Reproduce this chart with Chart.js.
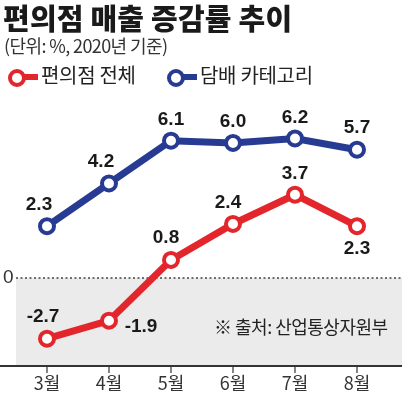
<!DOCTYPE html>
<html><head><meta charset="utf-8">
<script src="https://cdn.jsdelivr.net/npm/chart.js@4"></script>
<style>
html,body{margin:0;padding:0;background:#fff;}
#wrap{position:relative;width:402px;height:396px;overflow:hidden;font-family:"Noto Sans CJK KR","Noto Sans",sans-serif;}
canvas{position:absolute;left:0;top:0;}
.t{position:absolute;white-space:nowrap;color:#222;}
#title{left:3px;top:-4px;font-size:29px;font-weight:900;color:#1a1a1a;letter-spacing:0.2px;}
#sub{left:4px;top:32px;font-size:18px;color:#333;letter-spacing:-0.6px;}
.lg{position:absolute;top:66px;height:24px;}
.lg .dot{position:absolute;left:0;top:3px;width:10px;height:10px;border-radius:50%;border:4px solid;background:#fff;}
.lg .stub{position:absolute;left:15px;top:8px;width:15px;height:6px;}
.lg span{position:absolute;left:33px;top:-6px;font-size:20px;color:#222;white-space:nowrap;letter-spacing:-0.3px;}
#src{left:214px;top:313px;font-size:18px;color:#222;letter-spacing:-0.5px;}
</style></head>
<body><div id="wrap">
<canvas id="c" width="402" height="396"></canvas>
<div class="t" id="title">편의점 매출 증감률 추이</div>
<div class="t" id="sub">(단위: %, 2020년 기준)</div>
<div class="lg" style="left:8px"><div class="dot" style="border-color:#e3262c"></div><div class="stub" style="background:#e3262c"></div><span>편의점 전체</span></div>
<div class="lg" style="left:167px"><div class="dot" style="border-color:#283b92"></div><div class="stub" style="background:#283b92"></div><span>담배 카테고리</span></div>
<div class="t" id="src">※ 출처: 산업통상자원부</div>
</div>
<script>
const categories = ["3월","4월","5월","6월","7월","8월"];
const storeTotal = [-2.7, -1.9, 0.8, 2.4, 3.7, 2.3];
const tobacco = [2.3, 4.2, 6.1, 6.0, 6.2, 5.7];
const seriesNames = ["편의점 전체","담배 카테고리"];
const zeroLabel = "0";

const RED = "#e3262c", BLUE = "#283b92";
// label offsets (dx, dy) per point
const redOff = [[-4,-22],[32,6],[-5,-22],[-5,-21],[0,-21],[0,23]];
const blueOff = [[-8,-21],[-8,-22],[0,-21],[0,-21],[0,-21],[0,-22]];

const bgPlugin = {
  id:'bg',
  beforeDatasetsDraw(chart){
    const {ctx, chartArea, scales:{x,y}} = chart;
    const W = chart.width;
    const z = y.getPixelForValue(0);
    const b = chartArea.bottom;
    ctx.save();
    ctx.fillStyle = "#ebebeb";
    ctx.fillRect(chartArea.left, z, W - chartArea.left, b - z);
    ctx.strokeStyle = "#444";
    ctx.lineWidth = 1.5;
    ctx.setLineDash([2,2.5]);
    ctx.beginPath(); ctx.moveTo(chartArea.left, z); ctx.lineTo(W, z); ctx.stroke();
    ctx.setLineDash([]);
    ctx.strokeStyle = "#333";
    ctx.lineWidth = 2;
    ctx.beginPath(); ctx.moveTo(0, b+1); ctx.lineTo(W, b+1); ctx.stroke();
    ctx.lineWidth = 1.2;
    ctx.font = "18px 'Liberation Sans Narrow','Noto Sans CJK KR',sans-serif";
    ctx.fillStyle = "#333";
    ctx.textAlign = "center"; ctx.textBaseline = "middle";
    categories.forEach((c,i)=>{
      const px = x.getPixelForValue(i);
      ctx.beginPath(); ctx.moveTo(px, b+1); ctx.lineTo(px, b+8); ctx.stroke();
      ctx.fillText(c, px, b+18);
    });
    ctx.textAlign = "left";
    ctx.font = "19px 'Liberation Sans Narrow',sans-serif";
    ctx.fillText(zeroLabel, 3, z);
    ctx.restore();
  },
  afterDatasetsDraw(chart){
    const {ctx} = chart;
    ctx.save();
    ctx.font = "bold 19px 'Liberation Sans',sans-serif";
    ctx.fillStyle = "#1a1a1a";
    ctx.textAlign = "center"; ctx.textBaseline = "middle";
    const draw = (di, vals, offs) => {
      const meta = chart.getDatasetMeta(di);
      meta.data.forEach((pt,i)=>{
        ctx.fillText(vals[i].toFixed(1), pt.x + offs[i][0], pt.y + offs[i][1]);
      });
    };
    draw(0, tobacco, blueOff);
    draw(1, storeTotal, redOff);
    ctx.restore();
  }
};

new Chart(document.getElementById('c'), {
  type:'line',
  data:{
    labels: categories,
    datasets:[
      {label: seriesNames[1], data: tobacco, borderColor: BLUE, borderWidth: 7,
       pointRadius: 7, pointBorderWidth: 4, pointBackgroundColor:"#fff", pointBorderColor: BLUE, tension:0},
      {label: seriesNames[0], data: storeTotal, borderColor: RED, borderWidth: 7,
       pointRadius: 7, pointBorderWidth: 4, pointBackgroundColor:"#fff", pointBorderColor: RED, tension:0}
    ]
  },
  options:{
    responsive:false, animation:false, devicePixelRatio:1,
    layout:{padding:{left:16, right:14, top:98, bottom:31}},
    plugins:{legend:{display:false}, tooltip:{enabled:false}},
    scales:{
      x:{display:false, offset:true},
      y:{display:false, min:-3.87, max:8}
    }
  },
  plugins:[bgPlugin]
});
</script>
</body></html>
